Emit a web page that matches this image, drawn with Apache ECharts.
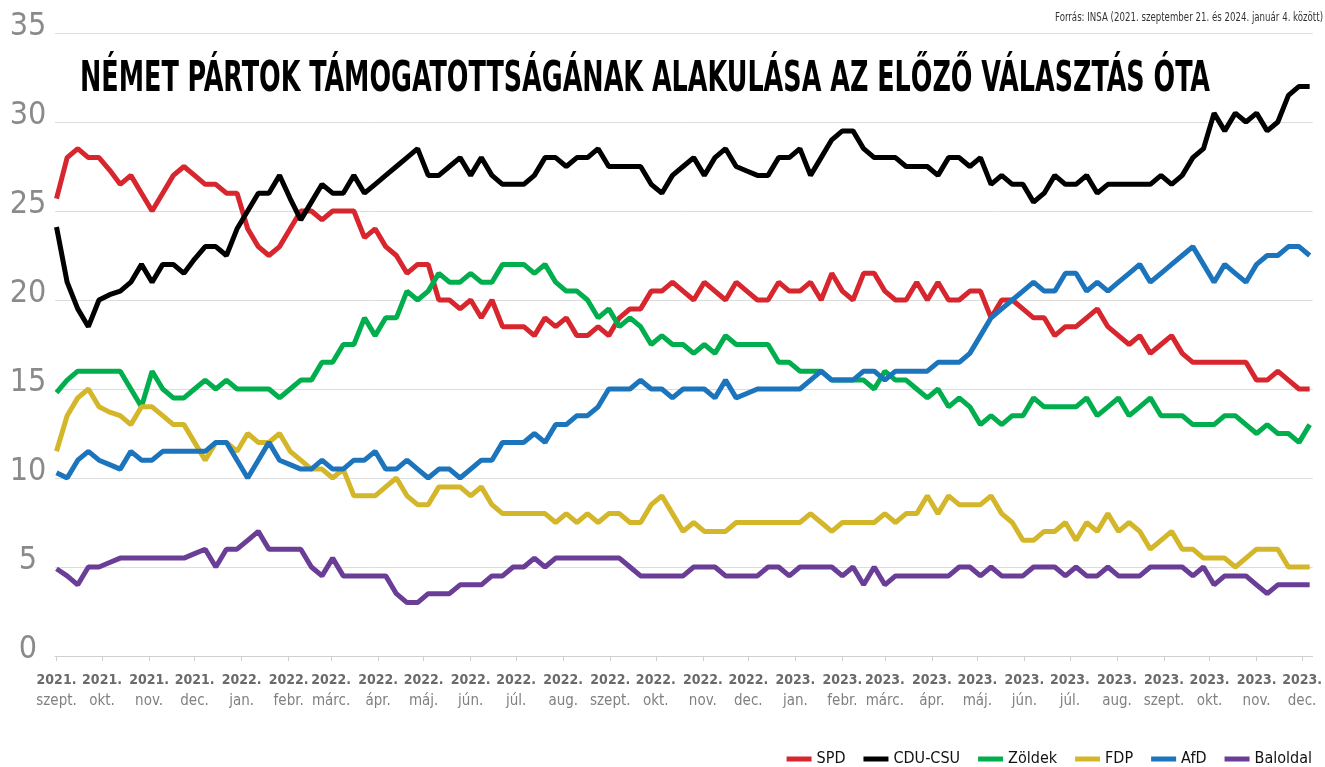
<!DOCTYPE html>
<html>
<head>
<meta charset="utf-8">
<title>Német pártok támogatottsága</title>
<script src="https://cdn.jsdelivr.net/npm/echarts@6/dist/echarts.min.js"></script>
<style>
  html, body { margin: 0; padding: 0; background: #fff; }
  #chart { width: 1325px; height: 767px; }
</style>
</head>
<body>
<div id="chart"></div>
<script>
// weekly INSA polls, first point = 2021 election result
var spd = [
  25.7, 28, 28.5, 28, 28, 27.3, 26.5, 27, 26, 25,
  26, 27, 27.5, 27, 26.5, 26.5, 26, 26, 24, 23,
  22.5, 23, 24, 25, 25, 24.5, 25, 25, 25, 23.5,
  24, 23, 22.5, 21.5, 22, 22, 20, 20, 19.5, 20,
  19, 20, 18.5, 18.5, 18.5, 18, 19, 18.5, 19, 18,
  18, 18.5, 18, 19, 19.5, 19.5, 20.5, 20.5, 21, 20.5,
  20, 21, 20.5, 20, 21, 20.5, 20, 20, 21, 20.5,
  20.5, 21, 20, 21.5, 20.5, 20, 21.5, 21.5, 20.5, 20,
  20, 21, 20, 21, 20, 20, 20.5, 20.5, 19, 20,
  20, 19.5, 19, 19, 18, 18.5, 18.5, 19, 19.5, 18.5,
  18, 17.5, 18, 17, 17.5, 18, 17, 16.5, 16.5, 16.5,
  16.5, 16.5, 16.5, 15.5, 15.5, 16, 15.5, 15, 15
];
var cdu = [
  24.1, 21, 19.5, 18.5, 20, 20.3, 20.5, 21, 22, 21,
  22, 22, 21.5, 22.3, 23, 23, 22.5, 24, 25, 26,
  26, 27, 25.7, 24.5, 25.5, 26.5, 26, 26, 27, 26,
  26.5, 27, 27.5, 28, 28.5, 27, 27, 27.5, 28, 27,
  28, 27, 26.5, 26.5, 26.5, 27, 28, 28, 27.5, 28,
  28, 28.5, 27.5, 27.5, 27.5, 27.5, 26.5, 26, 27, 27.5,
  28, 27, 28, 28.5, 27.5, 27.25, 27, 27, 28, 28,
  28.5, 27, 28, 29, 29.5, 29.5, 28.5, 28, 28, 28,
  27.5, 27.5, 27.5, 27, 28, 28, 27.5, 28, 26.5, 27,
  26.5, 26.5, 25.5, 26, 27, 26.5, 26.5, 27, 26, 26.5,
  26.5, 26.5, 26.5, 26.5, 27, 26.5, 27, 28, 28.5, 30.5,
  29.5, 30.5, 30, 30.5, 29.5, 30, 31.5, 32, 32
];
var zoldek = [
  14.8, 15.5, 16, 16, 16, 16, 16, 15, 14, 16,
  15, 14.5, 14.5, 15, 15.5, 15, 15.5, 15, 15, 15,
  15, 14.5, 15, 15.5, 15.5, 16.5, 16.5, 17.5, 17.5, 19,
  18, 19, 19, 20.5, 20, 20.5, 21.5, 21, 21, 21.5,
  21, 21, 22, 22, 22, 21.5, 22, 21, 20.5, 20.5,
  20, 19, 19.5, 18.5, 19, 18.5, 17.5, 18, 17.5, 17.5,
  17, 17.5, 17, 18, 17.5, 17.5, 17.5, 17.5, 16.5, 16.5,
  16, 16, 16, 15.5, 15.5, 15.5, 15.5, 15, 16, 15.5,
  15.5, 15, 14.5, 15, 14, 14.5, 14, 13, 13.5, 13,
  13.5, 13.5, 14.5, 14, 14, 14, 14, 14.5, 13.5, 14,
  14.5, 13.5, 14, 14.5, 13.5, 13.5, 13.5, 13, 13, 13,
  13.5, 13.5, 13, 12.5, 13, 12.5, 12.5, 12, 13
];
var fdp = [
  11.5, 13.5, 14.5, 15, 14, 13.7, 13.5, 13, 14, 14,
  13.5, 13, 13, 12, 11, 12, 12, 11.5, 12.5, 12,
  12, 12.5, 11.5, 11, 10.5, 10.5, 10, 10.5, 9, 9,
  9, 9.5, 10, 9, 8.5, 8.5, 9.5, 9.5, 9.5, 9,
  9.5, 8.5, 8, 8, 8, 8, 8, 7.5, 8, 7.5,
  8, 7.5, 8, 8, 7.5, 7.5, 8.5, 9, 8, 7,
  7.5, 7, 7, 7, 7.5, 7.5, 7.5, 7.5, 7.5, 7.5,
  7.5, 8, 7.5, 7, 7.5, 7.5, 7.5, 7.5, 8, 7.5,
  8, 8, 9, 8, 9, 8.5, 8.5, 8.5, 9, 8,
  7.5, 6.5, 6.5, 7, 7, 7.5, 6.5, 7.5, 7, 8,
  7, 7.5, 7, 6, 6.5, 7, 6, 6, 5.5, 5.5,
  5.5, 5, 5.5, 6, 6, 6, 5, 5, 5
];
var afd = [
  10.3, 10, 11, 11.5, 11, 10.75, 10.5, 11.5, 11, 11,
  11.5, 11.5, 11.5, 11.5, 11.5, 12, 12, 11, 10, 11,
  12, 11, 10.75, 10.5, 10.5, 11, 10.5, 10.5, 11, 11,
  11.5, 10.5, 10.5, 11, 10.5, 10, 10.5, 10.5, 10, 10.5,
  11, 11, 12, 12, 12, 12.5, 12, 13, 13, 13.5,
  13.5, 14, 15, 15, 15, 15.5, 15, 15, 14.5, 15,
  15, 15, 14.5, 15.5, 14.5, 14.75, 15, 15, 15, 15,
  15, 15.5, 16, 15.5, 15.5, 15.5, 16, 16, 15.5, 16,
  16, 16, 16, 16.5, 16.5, 16.5, 17, 18, 19, 19.5,
  20, 20.5, 21, 20.5, 20.5, 21.5, 21.5, 20.5, 21, 20.5,
  21, 21.5, 22, 21, 21.5, 22, 22.5, 23, 22, 21,
  22, 21.5, 21, 22, 22.5, 22.5, 23, 23, 22.5
];
var baloldal = [
  4.9, 4.5, 4, 5, 5, 5.25, 5.5, 5.5, 5.5, 5.5,
  5.5, 5.5, 5.5, 5.75, 6, 5, 6, 6, 6.5, 7,
  6, 6, 6, 6, 5, 4.5, 5.5, 4.5, 4.5, 4.5,
  4.5, 4.5, 3.5, 3, 3, 3.5, 3.5, 3.5, 4, 4,
  4, 4.5, 4.5, 5, 5, 5.5, 5, 5.5, 5.5, 5.5,
  5.5, 5.5, 5.5, 5.5, 5, 4.5, 4.5, 4.5, 4.5, 4.5,
  5, 5, 5, 4.5, 4.5, 4.5, 4.5, 5, 5, 4.5,
  5, 5, 5, 5, 4.5, 5, 4, 5, 4, 4.5,
  4.5, 4.5, 4.5, 4.5, 4.5, 5, 5, 4.5, 5, 4.5,
  4.5, 4.5, 5, 5, 5, 4.5, 5, 4.5, 4.5, 5,
  4.5, 4.5, 4.5, 5, 5, 5, 5, 4.5, 5, 4,
  4.5, 4.5, 4.5, 4, 3.5, 4, 4, 4, 4
];

var partyNames = ['SPD', 'CDU-CSU', 'Zöldek', 'FDP', 'AfD', 'Baloldal'];
var partyColors = ['#d7262e', '#000000', '#00ae4d', '#d4b62b', '#1c75bc', '#6a3d97'];
var monthNames = ['jan.', 'febr.', 'márc.', 'ápr.', 'máj.', 'jún.', 'júl.', 'aug.', 'szept.', 'okt.', 'nov.', 'dec.'];
var yTicks = [0, 5, 10, 15, 20, 25, 30, 35];

var titleText = 'NÉMET PÁRTOK TÁMOGATOTTSÁGÁNAK ALAKULÁSA AZ ELŐZŐ VÁLASZTÁS ÓTA';
var sourceText = 'Forrás: INSA (2021. szeptember 21. és 2024. január 4. között)';

var narrow = "'Liberation Sans Narrow', 'DejaVu Sans Condensed', 'Roboto', sans-serif";

// x axis counts days from 2021-09-20
var DAY = 86400000;
var axisStart = new Date(2021, 8, 20);
function dayOf(d) {
  return Math.round((d.getTime() - axisStart.getTime()) / DAY);
}
var axisEnd = dayOf(new Date(2023, 11, 28));

// one poll per week
function weekDay(i) {
  return dayOf(new Date(2021, 8, 21 + 7 * i));
}

// month ticks on the 21st
var tickValues = [];
var tickLabels = {};
for (var m = 0; m < 28; m++) {
  var d = new Date(2021, 8 + m, 21);
  var x = dayOf(d);
  tickValues.push(x);
  tickLabels[x] = '{y|' + d.getFullYear() + '.}\n{m|' + monthNames[d.getMonth()] + '}';
}

function toPairs(arr) {
  return arr.map(function (v, i) { return [weekDay(i), v]; });
}

// squeeze text to the width it has in the picture
function fitScale(text, font, width) {
  var ctx = document.createElement('canvas').getContext('2d');
  ctx.font = font;
  return width / ctx.measureText(text).width;
}

var titleFont = "bold 42px " + narrow;
var sourceFont = "13px " + narrow;

var allData = [spd, cdu, zoldek, fdp, afd, baloldal];
var series = partyNames.map(function (name, k) {
  return {
    name: name,
    type: 'line',
    data: toPairs(allData[k]),
    showSymbol: false,
    symbol: 'none',
    color: partyColors[k],
    lineStyle: { width: 5, color: partyColors[k] },
    z: 2 + k
  };
});

var myChart = echarts.init(document.getElementById('chart'));
var option = {
  animation: false,
  backgroundColor: '#fff',
  grid: { left: 55, right: 11, top: 33, bottom: 111 },
  legend: {
    data: partyNames,
    right: 8,
    top: 746,
    icon: 'rect',
    itemWidth: 25,
    itemHeight: 5,
    itemGap: 18,
    textStyle: { fontFamily: narrow, fontSize: 16, color: '#111' }
  },
  xAxis: {
    type: 'value',
    min: 0,
    max: axisEnd,
    axisLine: { lineStyle: { color: '#d0d0d0', width: 1 } },
    axisTick: { show: true, customValues: tickValues, length: 5, lineStyle: { color: '#d0d0d0' } },
    splitLine: { show: false },
    axisLabel: {
      customValues: tickValues,
      showMinLabel: true,
      showMaxLabel: true,
      hideOverlap: false,
      margin: 14,
      formatter: function (val) { return tickLabels[val] || ''; },
      rich: {
        y: { fontFamily: narrow, fontSize: 14, fontWeight: 'bold', color: '#6a6a6a', lineHeight: 21 },
        m: { fontFamily: narrow, fontSize: 15, color: '#808080', lineHeight: 21 }
      }
    }
  },
  yAxis: {
    type: 'value',
    min: 0,
    max: 35,
    interval: 5,
    axisLine: { show: false },
    axisTick: { show: false },
    splitLine: { lineStyle: { color: '#dcdcdc', width: 1 } },
    axisLabel: {
      customValues: yTicks,
      align: 'center',
      margin: 27,
      formatter: function (v) { return '{n|' + v + '}'; },
      rich: {
        n: { fontFamily: narrow, fontSize: 32, color: '#8a8a8a', padding: [0, 0, 12, 0] }
      }
    }
  },
  graphic: [
    {
      type: 'text',
      x: 80,
      y: 59,
      scaleX: fitScale(titleText, titleFont, 1130),
      style: { text: titleText, font: titleFont, fill: '#000', textAlign: 'left', textVerticalAlign: 'top' }
    },
    {
      type: 'text',
      x: 1323,
      y: 11,
      scaleX: fitScale(sourceText, sourceFont, 268),
      style: { text: sourceText, font: sourceFont, fill: '#333', textAlign: 'right', textVerticalAlign: 'top' }
    }
  ],
  series: series
};
myChart.setOption(option);
</script>
</body>
</html>
